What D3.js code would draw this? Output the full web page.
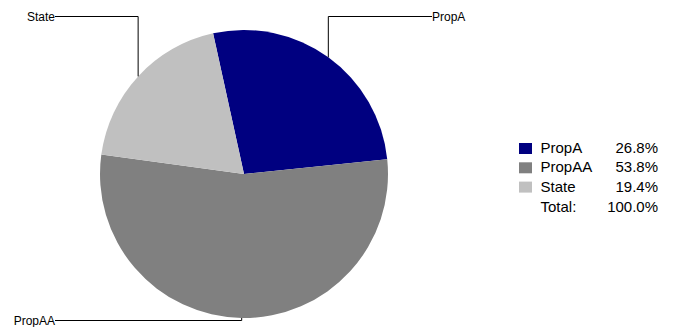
<!DOCTYPE html>
<html>
<head>
<meta charset="utf-8">
<script src="https://cdn.jsdelivr.net/npm/d3@7"></script>
<style>
  html, body { margin: 0; padding: 0; background: #fff; }
  svg { display: block; font-family: "Liberation Sans", Arial, Helvetica, sans-serif; }
</style>
</head>
<body>
<svg id="chart" width="676" height="327"></svg>
<script>
const categories = ["PropA", "PropAA", "State"];
const values = [26.8, 53.8, 19.4];
const colors = ["#000080", "#808080", "#c0c0c0"];
const totalLabel = "Total:";

const svg = d3.select("#chart");
const cx = 244, cy = 174, R = 144;
const start = -12.4 * Math.PI / 180;

const pie = d3.pie().sort(null).value(d => d.v)
  .startAngle(start).endAngle(start + 2 * Math.PI);
const data = pie(categories.map((c, i) => ({ c, v: values[i], col: colors[i] })));
const arc = d3.arc().innerRadius(0).outerRadius(R);

const g = svg.append("g").attr("transform", `translate(${cx},${cy})`);
g.selectAll("path").data(data).join("path")
  .attr("d", arc)
  .attr("fill", d => d.data.col);

// leader lines and labels
const topY = 16.5 - cy, botY = 320.5 - cy;
const rightX = 432 - cx, leftX = 55 - cx;
data.forEach(d => {
  const a = (d.startAngle + d.endAngle) / 2;
  const px = R * Math.sin(a), py = -R * Math.cos(a);
  const ly = Math.cos(a) > 0 ? topY : botY;
  const right = Math.sin(a) > 0.05;
  const lx = right ? rightX : leftX;
  g.append("path")
    .attr("d", `M${px},${py}V${ly}H${lx}`)
    .attr("fill", "none")
    .attr("stroke", "#000")
    .attr("stroke-width", 1);
  g.append("text")
    .attr("x", lx)
    .attr("y", ly)
    .attr("dy", "0.35em")
    .attr("text-anchor", right ? "start" : "end")
    .attr("font-size", 12)
    .attr("fill", "#000")
    .text(d.data.c);
});

// legend
const baselines = [153, 172.3, 191.6];
const leg = svg.append("g");
categories.forEach((c, i) => {
  leg.append("rect")
    .attr("x", 519).attr("y", baselines[i] - 10)
    .attr("width", 13).attr("height", 11)
    .attr("fill", colors[i]);
  leg.append("text")
    .attr("x", 540.5).attr("y", baselines[i])
    .attr("font-size", 15).attr("fill", "#000")
    .text(c);
  leg.append("text")
    .attr("x", 658).attr("y", baselines[i])
    .attr("text-anchor", "end")
    .attr("font-size", 15).attr("fill", "#000")
    .text(values[i].toFixed(1) + "%");
});
const total = d3.sum(values);
leg.append("text")
  .attr("x", 540.5).attr("y", 211.5)
  .attr("font-size", 15).attr("fill", "#000")
  .text(totalLabel);
leg.append("text")
  .attr("x", 658).attr("y", 211.5)
  .attr("text-anchor", "end")
  .attr("font-size", 15).attr("fill", "#000")
  .text(total.toFixed(1) + "%");
</script>
</body>
</html>
